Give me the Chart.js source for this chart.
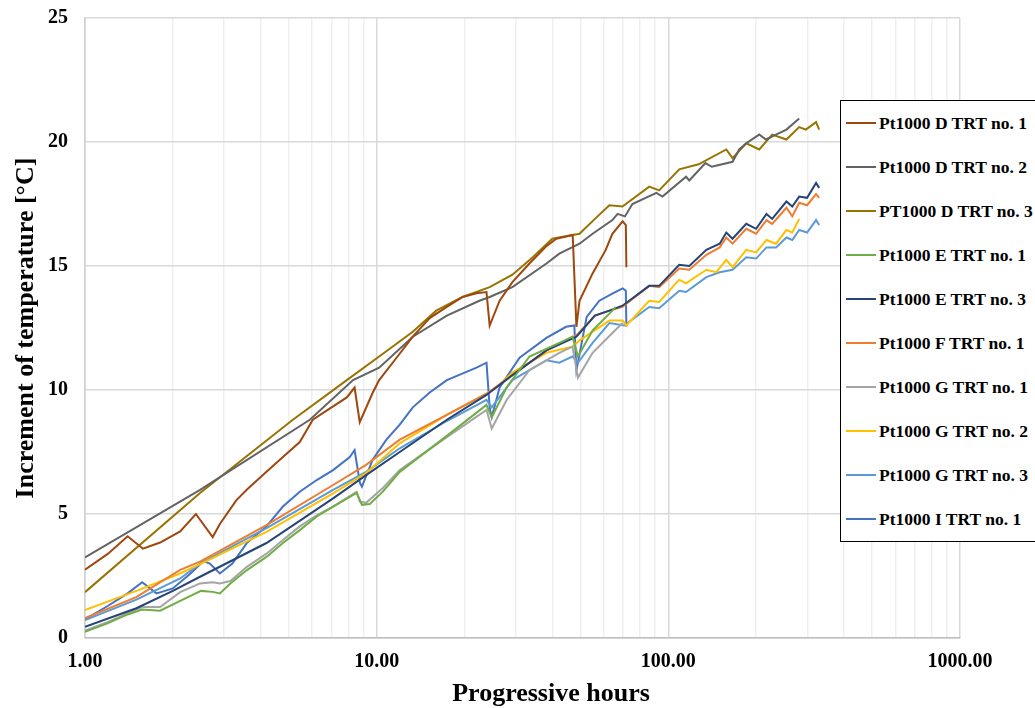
<!DOCTYPE html>
<html>
<head>
<meta charset="utf-8">
<script src="https://cdn.jsdelivr.net/npm/chart.js@4.4.1/dist/chart.umd.min.js"></script>
<style>
  html, body { margin: 0; padding: 0; background: #fff; overflow: hidden; }
  #wrap { position: relative; width: 1035px; height: 708px; }
  #legend {
    position: absolute; left: 840px; top: 100px; width: 220px; height: 442px;
    border: 1px solid #000; background: #fff; padding-top: 0; box-sizing: border-box;
    font-family: "Liberation Serif", "Times New Roman", serif; font-weight: bold; font-size: 17.5px;
  }
  .item { display: flex; align-items: center; height: 44px; white-space: nowrap; }
  .swatch { width: 30px; height: 2.5px; margin-left: 5px; margin-right: 3px; }
  #xTitle {
    position: absolute; left: 551px; top: 680px; transform: translateX(-50%);
    font-family: "Liberation Serif", "Times New Roman", serif; font-weight: bold; font-size: 26px;
    line-height: 26px; white-space: nowrap; color: #000;
  }
</style>
</head>
<body>
<div id="wrap">
  <canvas id="chartCanvas" width="1035" height="708"></canvas>
  <div id="xTitle">Progressive hours</div>
  <div id="legend"></div>
</div>
<script>
// [hours, temperature increment]
const ptD1 = [[1,2.75],[1.2,3.4],[1.4,4.1],[1.58,3.6],[1.81,3.85],[2.12,4.3],[2.4,5.0],[2.74,4.07],[2.9,4.6],[3.3,5.55],[3.6,6.0],[4.19,6.7],[4.77,7.3],[5.45,7.9],[6.04,8.8],[6.9,9.25],[7.9,9.7],[8.4,10.1],[8.75,8.7],[9.7,9.9],[10.2,10.4],[11.7,11.3],[13.3,12.15],[15.2,12.9],[17.4,13.35],[19.7,13.75],[22,13.9],[23.8,13.95],[24.4,12.6],[26.4,13.6],[29.2,14.35],[33.4,15.1],[38.2,15.8],[41.3,16.1],[47,16.25],[48.4,12.55],[49.6,13.6],[55,14.7],[61,15.65],[64.3,16.3],[69.7,16.8],[71.5,16.65],[71.8,14.95]];
const ptD2 = [[1,3.25],[2.48,5.97],[5.9,8.8],[8.3,10.4],[10.2,10.9],[13.3,12.15],[17.4,13.0],[22.5,13.6],[24.4,13.75],[29.2,14.15],[38.2,15.1],[42.3,15.5],[49.6,15.9],[55,16.3],[64.3,16.85],[67,17.1],[71,17.0],[75.3,17.5],[91,17.95],[95.5,17.8],[115,18.6],[118,18.45],[134,19.15],[141,19.0],[166,19.2],[175,19.7],[185,19.95],[205,20.3],[216,20.1],[234,20.3],[254,20.5],[281,20.95]];
const ptD3 = [[1,1.85],[2.48,5.85],[5.16,8.8],[7.9,10.4],[10.2,11.35],[13.3,12.35],[16,13.2],[19.7,13.75],[24.4,14.15],[29.2,14.65],[34.3,15.35],[40,16.1],[47,16.25],[49.6,16.3],[56,16.9],[62.8,17.45],[69.6,17.4],[86,18.2],[93,18.05],[109,18.9],[127,19.1],[158,19.7],[166,19.35],[185,19.95],[205,19.7],[227,20.3],[254,20.1],[281,20.6],[296,20.5],[321,20.8],[329,20.5]];
const ptE1 = [[1,0.25],[1.2,0.6],[1.4,0.95],[1.57,1.15],[1.81,1.1],[2.12,1.5],[2.5,1.9],[2.74,1.86],[2.9,1.8],[3.15,2.2],[3.59,2.74],[4.19,3.27],[4.77,3.83],[5.45,4.35],[6.23,4.9],[7.09,5.3],[8.54,5.85],[8.9,5.37],[9.47,5.4],[10.5,5.9],[12,6.7],[17.4,8.15],[23.8,9.4],[24.8,8.9],[27.9,10.1],[33.4,11.35],[42.3,11.9],[46.9,12.15],[49,11.35],[55,12.4],[64.3,13.2],[66,13.35]];
const ptE3 = [[1,0.45],[1.5,1.2],[2.0,1.9],[2.48,2.47],[4.19,3.83],[7.09,5.63],[9.2,6.57],[12,7.5],[17.4,8.8],[23.8,9.8],[29.2,10.6],[38.2,11.6],[48.4,12.15],[56,13.0],[62.8,13.2],[69.6,13.4],[86,14.2],[93,14.2],[109,15.05],[118,15.0],[135,15.65],[150,15.9],[158,16.35],[166,16.1],[185,16.7],[200,16.5],[217,17.1],[227,16.9],[254,17.6],[266,17.4],[281,17.8],[299,17.75],[321,18.35],[329,18.15]];
const ptF1 = [[1,0.8],[1.5,1.65],[2.12,2.75],[2.48,3.08],[4.19,4.55],[7.09,6.17],[9.2,6.98],[12,8.0],[17.4,9.0],[23.8,9.85],[29.2,10.6],[38.2,11.6],[48.4,12.2],[56,13.0],[62.8,13.2],[69.6,13.35],[86,14.2],[93,14.15],[109,14.9],[118,14.85],[135,15.45],[150,15.75],[158,16.15],[166,15.9],[185,16.5],[200,16.3],[217,16.85],[227,16.7],[254,17.35],[266,17.0],[281,17.55],[299,17.45],[321,17.9],[329,17.75]];
const ptG1 = [[1,0.3],[1.2,0.65],[1.4,1.0],[1.57,1.25],[1.81,1.25],[2.12,1.85],[2.48,2.2],[2.74,2.25],[2.9,2.2],[3.15,2.3],[3.59,2.87],[4.19,3.4],[4.77,3.95],[5.45,4.5],[6.23,4.95],[7.09,5.3],[8.54,5.9],[8.76,5.5],[9.2,5.45],[10.5,6.05],[12,6.77],[17.4,8.1],[23.8,9.2],[24.8,8.45],[27.9,9.6],[33.4,10.8],[42.3,11.5],[46.9,11.75],[49,10.5],[55,11.5],[64.3,12.3],[69.7,12.7]];
const ptG2 = [[1,1.13],[1.5,1.9],[2.12,2.6],[2.48,2.98],[4.19,4.28],[7.09,5.83],[9.2,6.65],[12,7.85],[17.4,9.0],[23.8,9.85],[25.7,10.1],[29.2,10.7],[38.2,11.5],[46.9,11.75],[49.6,12.0],[62.8,12.8],[69.7,12.8],[71.8,12.6],[86,13.6],[93,13.55],[109,14.45],[115,14.3],[135,14.85],[146,14.75],[158,15.25],[166,14.95],[185,15.65],[200,15.55],[217,16.05],[234,15.9],[254,16.45],[266,16.35],[281,16.9]];
const ptG3 = [[1,0.72],[1.5,1.55],[2.12,2.4],[2.48,3.0],[4.19,4.43],[7.09,5.97],[9.2,6.7],[12,7.65],[17.4,8.75],[23.8,9.6],[24.8,9.3],[29.2,10.4],[38.2,11.2],[42.3,11.1],[46.9,11.35],[49,11.1],[55,11.9],[62.8,12.7],[70.6,12.6],[86,13.35],[93,13.3],[109,14.0],[115,13.95],[135,14.55],[150,14.75],[166,14.85],[185,15.35],[200,15.3],[217,15.75],[234,15.75],[254,16.15],[266,16.05],[281,16.45],[299,16.35],[321,16.85],[329,16.65]];
const ptI1 = [[1,0.75],[1.2,1.3],[1.4,1.8],[1.57,2.25],[1.76,1.8],[2.0,2.0],[2.3,2.6],[2.55,3.1],[2.68,3.0],[2.9,2.6],[3.2,3.0],[3.59,3.83],[4.19,4.5],[4.77,5.3],[5.45,5.9],[6.23,6.37],[7.09,6.77],[8.09,7.3],[8.4,7.58],[8.76,6.25],[8.9,6.1],[9.7,7.2],[10.8,8.0],[12,8.6],[13.3,9.3],[15.2,9.9],[17.4,10.4],[22,10.9],[23.8,11.1],[24.4,9.3],[24.8,8.9],[26.4,10.1],[30.9,11.3],[38.2,12.1],[44.6,12.55],[47.6,12.6],[48.4,10.8],[52.5,12.95],[58,13.6],[64.5,13.9],[69.7,14.1],[71.5,14.0],[71.8,12.55]];

const seriesNames = ['Pt1000 D TRT no. 1', 'Pt1000 D TRT no. 2', 'PT1000 D TRT no. 3', 'Pt1000 E TRT no. 1', 'Pt1000 E TRT no. 3',
                     'Pt1000 F TRT no. 1', 'Pt1000 G TRT no. 1', 'Pt1000 G TRT no. 2', 'Pt1000 G TRT no. 3', 'Pt1000 I TRT no. 1'];
const seriesPoints = [ptD1, ptD2, ptD3, ptE1, ptE3, ptF1, ptG1, ptG2, ptG3, ptI1];
const seriesColors = ['#9E480E', '#636363', '#997300', '#70AD47', '#264478', '#ED7D31', '#A5A5A5', '#FFC000', '#5B9BD5', '#4472C4'];

const xTickValues = [1, 2, 3, 4, 5, 6, 7, 8, 9, 10, 20, 30, 40, 50, 60, 70, 80, 90, 100, 200, 300, 400, 500, 600, 700, 800, 900, 1000];
const xTickLabels = { 1: '1.00', 10: '10.00', 100: '100.00', 1000: '1000.00' };
const yTicks = [0, 5, 10, 15, 20, 25];

const serif = "'Liberation Serif', 'Times New Roman', serif";

const datasets = seriesNames.map((name, i) => ({
    label: name,
    data: seriesPoints[i].map(p => ({ x: p[0], y: p[1] })),
    borderColor: seriesColors[i],
    backgroundColor: seriesColors[i],
    borderWidth: 2,
    pointRadius: 0,
    tension: 0,
    fill: false
}));

const ctx = document.getElementById('chartCanvas').getContext('2d');
new Chart(ctx, {
    type: 'line',
    data: { datasets: datasets },
    options: {
        responsive: false,
        animation: false,
        layout: { padding: { left: 0, right: 75, top: 18, bottom: 0 } },
        plugins: {
            legend: { display: false },
            tooltip: { enabled: false }
        },
        scales: {
            x: {
                type: 'logarithmic',
                min: 1,
                max: 1000,
                afterBuildTicks: (scale) => {
                    scale.ticks = xTickValues.map(v => ({ value: v, major: xTickLabels[v] !== undefined }));
                },
                afterFit: (scale) => {
                    scale.height = 70;
                    scale.paddingLeft = 0;
                    scale.paddingRight = 0;
                },
                ticks: {
                    autoSkip: false,
                    maxRotation: 0,
                    padding: 12,
                    color: '#000',
                    font: { family: serif, size: 20, weight: 'bold' },
                    callback: (value) => xTickLabels[value] !== undefined ? xTickLabels[value] : ''
                },
                grid: {
                    drawTicks: false,
                    color: (c) => (c.tick && xTickLabels[c.tick.value] !== undefined) ? '#d9d9d9' : '#efefef',
                    lineWidth: 1.5
                },
                border: { color: '#bfbfbf', width: 1.5 },
                // axis title is an html div, Excel centres it off the plot centre
                title: { display: false }
            },
            y: {
                min: 0,
                max: 25,
                afterBuildTicks: (scale) => {
                    scale.ticks = yTicks.map(v => ({ value: v }));
                },
                afterFit: (scale) => {
                    scale.width = 85;
                    scale.paddingTop = 0;
                    scale.paddingBottom = 0;
                },
                ticks: {
                    padding: 17,
                    color: '#000',
                    font: { family: serif, size: 20, weight: 'bold' }
                },
                grid: { drawTicks: false, color: '#d9d9d9', lineWidth: 1.5 },
                border: { color: '#d0d0d0', width: 1.5 },
                title: {
                    display: true,
                    text: 'Increment of temperature [°C]',
                    color: '#000',
                    font: { family: serif, size: 26, weight: 'bold' },
                    padding: { top: 11, bottom: 0 }
                }
            }
        }
    }
});

// legend box overlapping the plot, as in the original
const legendBox = document.getElementById('legend');
seriesNames.forEach((name, i) => {
    const row = document.createElement('div');
    row.className = 'item';
    const sw = document.createElement('span');
    sw.className = 'swatch';
    sw.style.background = seriesColors[i];
    const txt = document.createElement('span');
    txt.textContent = name;
    row.appendChild(sw);
    row.appendChild(txt);
    legendBox.appendChild(row);
});
</script>
</body>
</html>
